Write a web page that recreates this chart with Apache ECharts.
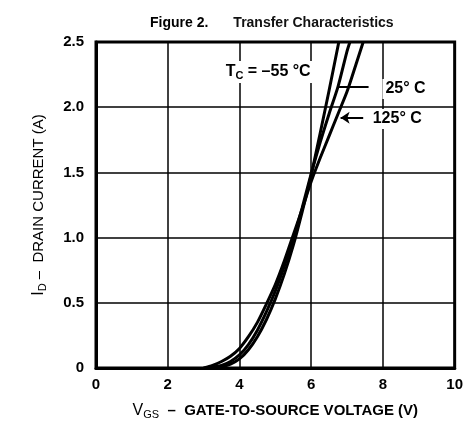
<!DOCTYPE html>
<html>
<head>
<meta charset="utf-8">
<script src="https://cdn.jsdelivr.net/npm/echarts@6/dist/echarts.min.js"></script>
<style>
  html, body { margin: 0; padding: 0; background: #fff; }
  #chart { width: 466px; height: 429px; }
</style>
</head>
<body>
<div id="chart"></div>
<script>
// gate voltage (V) and drain current (A)
const vgsM55 = [3.2, 3.5, 3.75, 4.0, 4.25, 4.5, 4.75, 5.0, 5.25, 5.5, 5.75, 6.0, 6.25, 6.5, 6.77];
const idM55  = [0, 0.01, 0.03, 0.07, 0.14, 0.24, 0.37, 0.53, 0.72, 0.94, 1.2, 1.48, 1.8, 2.13, 2.5];
const vgs25  = [3.1, 3.5, 3.75, 4.0, 4.25, 4.5, 4.75, 5.0, 5.25, 5.5, 5.75, 6.0, 6.25, 6.5, 6.75, 7.0, 7.08];
const id25   = [0, 0.02, 0.05, 0.1, 0.18, 0.29, 0.43, 0.59, 0.78, 0.99, 1.23, 1.49, 1.73, 1.95, 2.16, 2.43, 2.5];
const vgs125 = [3.0, 3.25, 3.5, 3.75, 4.0, 4.25, 4.5, 4.75, 5.0, 5.25, 5.5, 5.75, 6.0, 6.25, 6.5, 6.75, 7.0, 7.25, 7.45];
const id125  = [0, 0.02, 0.05, 0.09, 0.15, 0.24, 0.35, 0.49, 0.64, 0.82, 1.02, 1.22, 1.43, 1.61, 1.78, 1.95, 2.12, 2.33, 2.5];

const xTicks = [0, 2, 4, 6, 8, 10];
const yTicks = ['0', '0.5', '1.0', '1.5', '2.0', '2.5'];

const font = '"Liberation Sans", Arial, sans-serif';

const zip = (xs, ys) => xs.map((x, i) => [x, ys[i]]);

const chart = echarts.init(document.getElementById('chart'));

const curve = (name, data) => ({
  name: name,
  type: 'line',
  data: data,
  smooth: 0.25,
  symbol: 'none',
  lineStyle: { color: '#000', width: 3 },
  z: 5
});

const sub = { fontSize: 11, fontWeight: 'bold', fontFamily: font, color: '#000', padding: [7, 0, 0, 0] };
const norm = { fontSize: 16, fontWeight: 'bold', fontFamily: font, color: '#000' };

const boxLabel = (text) => ({
  show: true,
  position: 'inside',
  formatter: text,
  backgroundColor: '#fff',
  padding: [2, 3],
  rich: { n: norm, s: sub }
});

const option = {
  animation: false,
  backgroundColor: '#fff',
  title: {
    text: '{b|Figure 2.}     {r|Transfer Characteristics}',
    left: 145,
    top: 9,
    textStyle: {
      rich: {
        b: { fontSize: 14, fontWeight: 'bold', fontFamily: font, color: '#000' },
        r: { fontSize: 14, fontWeight: 'bold', fontFamily: font, color: '#111' }
      }
    }
  },
  grid: {
    left: 96, right: 5, top: 42, bottom: 61,
    show: true, borderColor: '#000', borderWidth: 3
  },
  xAxis: {
    type: 'value',
    min: 0, max: 10, interval: 2,
    name: '{i|V}{s|GS}{t|  –  GATE-TO-SOURCE VOLTAGE (V)}',
    nameLocation: 'middle',
    nameGap: 34,
    nameTextStyle: {
      rich: {
        i: { fontSize: 16, fontFamily: font, color: '#000' },
        s: { fontSize: 11, fontFamily: font, color: '#000', padding: [7, 0, 0, 0] },
        t: { fontSize: 15, fontWeight: 'bold', fontFamily: font, color: '#000' }
      }
    },
    axisLine: { show: true, lineStyle: { color: '#000', width: 3 } },
    axisTick: { show: false },
    splitLine: { show: true, lineStyle: { color: '#000', width: 1.5 } },
    axisLabel: {
      margin: 9,
      fontSize: 15, fontWeight: 'bold', fontFamily: font, color: '#000',
      formatter: v => xTicks.includes(v) ? String(v) : ''
    }
  },
  yAxis: {
    type: 'value',
    min: 0, max: 2.5, interval: 0.5,
    name: '{i|I}{s|D}{t| –  DRAIN CURRENT (A)}',
    nameLocation: 'middle',
    nameRotate: 90,
    nameGap: 48,
    nameTextStyle: {
      rich: {
        i: { fontSize: 16, fontFamily: font, color: '#000' },
        s: { fontSize: 11, fontFamily: font, color: '#000', padding: [7, 0, 0, 0] },
        t: { fontSize: 15, fontFamily: font, color: '#000' }
      }
    },
    axisLine: { show: true, lineStyle: { color: '#000', width: 3 } },
    axisTick: { show: false },
    splitLine: { show: true, lineStyle: { color: '#000', width: 1.5 } },
    axisLabel: {
      margin: 12,
      fontSize: 15, fontWeight: 'bold', fontFamily: font, color: '#000',
      formatter: v => yTicks[Math.round(v / 0.5)]
    }
  },
  series: [
    Object.assign(curve('-55 °C', zip(vgsM55, idM55)), {
      markPoint: {
        symbol: 'circle', symbolSize: 0,
        data: [
          { coord: [4.8, 2.27], label: boxLabel('{n|T}{s|C}{n| = –55 °C}') },
          { coord: [8.63, 2.14], label: boxLabel('{n|25° C}') },
          { coord: [8.4, 1.91], label: boxLabel('{n|125° C}') }
        ]
      }
    }),
    Object.assign(curve('25 °C', zip(vgs25, id25)), {
      markLine: {
        silent: true,
        symbol: ['none', 'none'],
        lineStyle: { color: '#000', width: 2, type: 'solid' },
        label: { show: false },
        data: [[{ coord: [6.75, 2.16] }, { coord: [7.6, 2.16] }]]
      }
    }),
    Object.assign(curve('125 °C', zip(vgs125, id125)), {
      markLine: {
        silent: true,
        symbol: ['arrow', 'none'],
        symbolSize: 9,
        lineStyle: { color: '#000', width: 2, type: 'solid' },
        label: { show: false },
        data: [[{ coord: [6.82, 1.92] }, { coord: [7.45, 1.92] }]]
      }
    })
  ]
};

chart.setOption(option);
</script>
</body>
</html>
